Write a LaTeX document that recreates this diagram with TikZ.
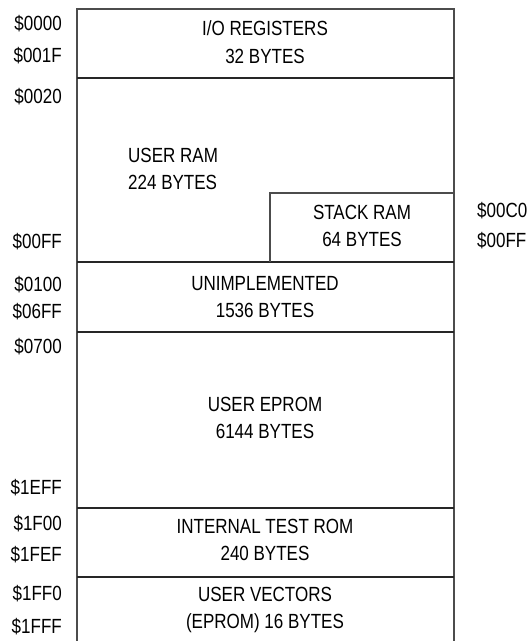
\documentclass[tikz,border=0pt]{standalone}
\usepackage{fontspec}
\setmainfont{Liberation Sans}[FakeStretch=0.83]

\begin{document}
\begin{tikzpicture}[
    x=1pt, y=-1pt,
    frame/.style={line width=1.3pt, draw=black!70},
    divider/.style={line width=1.2pt, draw=black!85},
    block/.style={align=center, font=\fontsize{20.5}{27.5}\selectfont, inner sep=0pt},
    addr/.style={anchor=east, font=\fontsize{20.5}{24}\selectfont, inner sep=0pt},
    raddr/.style={addr, anchor=west},
]
\useasboundingbox (0,0) rectangle (532,641);

% === Memory map outline ===
\draw[frame] (77,641) -- (77,9) -- (454,9) -- (454,641);

% Region boundaries
\draw[divider] (77,78) -- (454,78);
\draw[divider] (77,262) -- (454,262);
\draw[divider] (77,332) -- (454,332);
\draw[divider] (77,508) -- (454,508);
\draw[divider] (77,577) -- (454,577);

% Stack inside user RAM
\draw[frame] (270,262) -- (270,193) -- (454,193);

% === Region contents ===
\node[block] (io) at (265,42) {I/O REGISTERS\\32 BYTES};
\node[block, align=left, anchor=west] (uram) at (128,169) {USER RAM\\224 BYTES};
\node[block] (stack) at (362,226) {STACK RAM\\64 BYTES};
\node[block] (unimp) at (265,297) {UNIMPLEMENTED\\1536 BYTES};
\node[block] (eprom) at (265,418) {USER EPROM\\6144 BYTES};
\node[block] (testrom) at (265,540) {INTERNAL TEST ROM\\240 BYTES};
\node[block] (vectors) at (265,610) {USER VECTORS\\(EPROM) 16 BYTES};

% === Addresses (left side) ===
\node[addr] (a0000) at (62,24) {\$0000};
\node[addr] (a001F) at (62,56) {\$001F};
\node[addr] (a0020) at (62,97) {\$0020};
\node[addr] (a00FF) at (62,242) {\$00FF};
\node[addr] (a0100) at (62,285) {\$0100};
\node[addr] (a06FF) at (62,312) {\$06FF};
\node[addr] (a0700) at (62,347) {\$0700};
\node[addr] (a1EFF) at (62,488) {\$1EFF};
\node[addr] (a1F00) at (62,524) {\$1F00};
\node[addr] (a1FEF) at (62,555) {\$1FEF};
\node[addr] (a1FF0) at (62,594) {\$1FF0};
\node[addr] (a1FFF) at (62,627) {\$1FFF};

% Stack addresses (right side)
\node[raddr] (s00C0) at (477,211) {\$00C0};
\node[raddr] (s00FF) at (477,241) {\$00FF};

\end{tikzpicture}
\end{document}
